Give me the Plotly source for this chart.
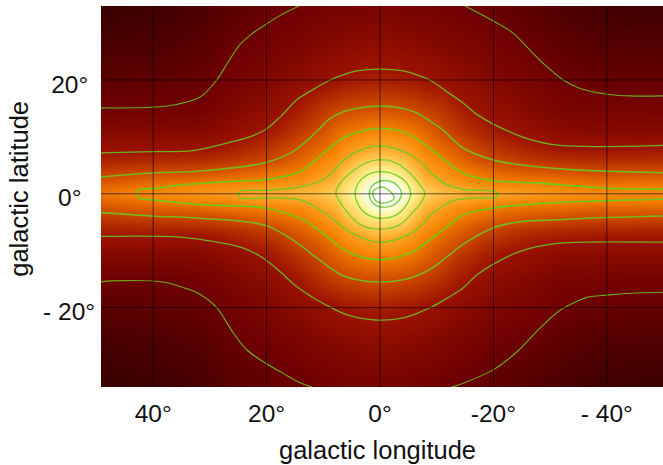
import numpy as np
import plotly.graph_objects as go

NB = "\u00a0"
lon_ticks = [40, 20, 0, -20, -40]
lon_labels = ["40°", "20°", "0°", "-20°", "- 40°"]
lat_ticks = [20, 0, -20]
lat_labels = ["20°" + NB, "0°" + NB + NB, "- 20°"]

longitudes = [49.5, 38, 32, 27, 22, 18, 14, 11, 8, 6, 4, 2, 0, -2, -4, -6, -8, -11, -14, -18, -22, -27, -32, -38, -50]
latitudes = [33.5, 26, 20, 15, 11, 8, 6, 4, 2.5, 1.2, 0, -1.2, -2.5, -4, -6, -8, -11, -15, -20, -26, -34.5]

# one list per longitude, from the top of the map to the bottom (brightness, contour-level scale)
brightness_by_lon = [
    [.1, .4, .7, 1.0, 1.5, 1.9, 2.3, 2.75, 3.15, 3.5, 3.8, 3.45, 3.1, 2.7, 2.3, 1.9, 1.45, 1.0, .65, .35, .1],
    [.25, .5, .8, 1.03, 1.45, 1.9, 2.4, 2.95, 3.5, 4.0, 4.3, 3.95, 3.45, 2.9, 2.35, 1.9, 1.45, 1.0, .78, .5, .2],
    [.4, .65, .88, 1.1, 1.5, 1.95, 2.45, 3.0, 3.65, 4.2, 4.5, 4.15, 3.55, 2.95, 2.4, 1.9, 1.45, 1.1, .85, .6, .35],
    [.6, .9, 1.1, 1.35, 1.7, 2.15, 2.6, 3.2, 3.85, 4.3, 4.7, 4.25, 3.75, 3.1, 2.55, 2.1, 1.65, 1.3, 1.05, .85, .55],
    [.8, 1.05, 1.3, 1.6, 1.95, 2.45, 2.8, 3.45, 3.95, 4.6, 5.1, 4.55, 3.9, 3.4, 2.75, 2.4, 1.9, 1.55, 1.25, 1.0, .7],
    [.9, 1.2, 1.5, 1.85, 2.25, 2.75, 3.05, 3.7, 4.2, 4.7, 5.2, 4.65, 4.15, 3.65, 3.0, 2.65, 2.2, 1.8, 1.45, 1.15, .85],
    [1.0, 1.3, 1.7, 2.2, 2.7, 3.15, 3.55, 3.95, 4.35, 5.0, 5.4, 4.95, 4.25, 3.9, 3.5, 3.1, 2.65, 2.15, 1.65, 1.25, .95],
    [1.05, 1.45, 1.85, 2.55, 3.0, 3.5, 3.95, 4.45, 4.9, 5.25, 5.6, 5.2, 4.8, 4.35, 3.85, 3.45, 2.95, 2.5, 1.8, 1.4, 1.0],
    [1.1, 1.55, 2.0, 2.8, 3.5, 3.95, 4.5, 4.95, 5.3, 5.7, 6.0, 5.65, 5.25, 4.85, 4.4, 3.9, 3.4, 2.75, 1.95, 1.5, 1.05],
    [1.12, 1.6, 2.1, 2.92, 3.75, 4.5, 5.0, 5.65, 6.15, 6.4, 6.6, 6.35, 6.1, 5.55, 4.9, 4.4, 3.7, 2.9, 2.05, 1.55, 1.1],
    [1.15, 1.65, 2.15, 3.0, 3.9, 4.75, 5.5, 6.2, 6.55, 7.0, 7.2, 6.95, 6.5, 6.1, 5.4, 4.7, 3.85, 2.98, 2.1, 1.6, 1.1],
    [1.15, 1.7, 2.2, 3.05, 4.05, 5.0, 5.85, 6.75, 7.4, 7.9, 8.1, 7.85, 7.35, 6.6, 5.75, 4.95, 4.0, 3.05, 2.15, 1.65, 1.12],
    [1.2, 1.72, 2.25, 3.1, 4.15, 5.15, 6.0, 6.95, 7.8, 9.1, 9.5, 9.0, 7.85, 6.85, 5.9, 5.1, 4.1, 3.08, 2.2, 1.7, 1.15],
    [1.2, 1.7, 2.2, 3.05, 4.1, 5.05, 5.9, 6.85, 7.75, 8.9, 9.2, 8.8, 7.7, 6.75, 5.8, 5.0, 4.05, 3.02, 2.15, 1.65, 1.12],
    [1.15, 1.65, 2.15, 3.0, 3.95, 4.85, 5.65, 6.45, 7.0, 7.5, 7.9, 7.45, 6.95, 6.35, 5.55, 4.8, 3.9, 2.98, 2.1, 1.6, 1.1],
    [1.1, 1.6, 2.1, 2.9, 3.8, 4.5, 5.0, 5.65, 6.2, 6.6, 6.9, 6.5, 6.1, 5.6, 4.95, 4.45, 3.75, 2.88, 2.05, 1.55, 1.05],
    [1.1, 1.55, 2.0, 2.75, 3.5, 4.0, 4.55, 4.95, 5.35, 5.75, 6.0, 5.7, 5.3, 4.9, 4.45, 3.95, 3.45, 2.75, 1.95, 1.5, 1.0],
    [1.05, 1.45, 1.9, 2.6, 3.0, 3.55, 3.98, 4.5, 4.85, 5.25, 5.6, 5.2, 4.8, 4.4, 3.9, 3.5, 3.0, 2.5, 1.8, 1.4, .95],
    [1.0, 1.35, 1.75, 2.2, 2.7, 3.15, 3.55, 4.0, 4.4, 5.0, 5.3, 4.95, 4.3, 3.95, 3.5, 3.1, 2.65, 2.15, 1.65, 1.25, .9],
    [.9, 1.25, 1.55, 1.9, 2.3, 2.75, 3.05, 3.65, 4.05, 4.6, 5.1, 4.55, 4.0, 3.6, 3.0, 2.7, 2.25, 1.85, 1.45, 1.15, .8],
    [.8, 1.1, 1.35, 1.7, 2.0, 2.5, 2.85, 3.4, 3.85, 4.35, 4.9, 4.3, 3.8, 3.35, 2.8, 2.45, 1.95, 1.6, 1.3, 1.0, .65],
    [.6, .95, 1.25, 1.45, 1.8, 2.2, 2.65, 3.2, 3.8, 4.25, 4.7, 4.2, 3.7, 3.15, 2.6, 2.2, 1.8, 1.45, 1.2, .9, .5],
    [.45, .75, 1.0, 1.25, 1.6, 2.0, 2.5, 3.1, 3.7, 4.15, 4.5, 4.1, 3.6, 3.05, 2.5, 2.05, 1.6, 1.25, 1.0, .7, .4],
    [.3, .6, .9, 1.2, 1.55, 2.0, 2.45, 2.95, 3.5, 4.0, 4.3, 3.95, 3.45, 3.0, 2.45, 2.0, 1.55, 1.2, .9, .55, .25],
    [.2, .55, .85, 1.15, 1.55, 2.05, 2.45, 3.05, 3.55, 3.95, 4.2, 3.95, 3.5, 3.0, 2.4, 2.0, 1.55, 1.15, .85, .5, .15],
]

colour_stops = ["#300000", "#6e0000", "#9c1200", "#cf4a00", "#f58000", "#ffa526",
                "#ffd25a", "#fff59a", "#f4fff0", "#ffffff", "#ffffff"]

c1_upper_lon = [49.4, 40.2, 35.9, 31.7, 28.8, 27.0, 24.7, 22.5, 20.4, 17.5, 14.3]
c1_upper_lat = [15.1, 15.2, 15.7, 17.0, 20, 22.8, 26.2, 28.2, 29.6, 31.4, 33]
c1_upper_r_lon = [-15.0, -19.9, -23.5, -25.9, -28.8, -32.3, -35.3, -40, -44.1, -49.9]
c1_upper_r_lat = [33, 30.4, 28.2, 25.8, 22.9, 20, 18.5, 17.5, 17.2, 17.2]
c1_lower_lon = [49.4, 47.1, 38.3, 34.3, 31.7, 28.8, 25.9, 23.5, 20.3, 17, 14.1, 12]
c1_lower_lat = [-15.5, -15.3, -15.5, -16.6, -17.7, -20, -24.4, -27.4, -29.7, -31.6, -33.2, -33.95]
c1_lower_r_lon = [-12.6, -14.1, -20, -24.1, -28.2, -31.7, -34.5, -36.5, -40, -45.9, -49.9]
c1_lower_r_lat = [-33.95, -33.5, -30.9, -27.8, -23.6, -20.5, -19, -18.2, -17.8, -17.4, -17.3]

c2_upper_lon = [49.4, 40.2, 33, 25.9, 23, 20.3, 17.5, 14.7, 11.7, 8.8, 6.5, 4.1, 0, -4.1, -6.5, -8.8, -11.7, -14.6, -17, -19.9, -26.5, -31.7, -40, -49.9]
c2_upper_lat = [7.2, 7.4, 7.6, 9.2, 10, 11.2, 13.6, 16.5, 18.4, 20, 20.9, 21.6, 21.9, 21.6, 20.9, 20, 18, 16, 14, 12.3, 9.5, 8.5, 8.3, 8.5]
c2_lower_lon = [49.4, 35.3, 30.5, 24.2, 20.3, 17.5, 14.7, 11.7, 8.8, 6.5, 4.1, 0, -4.1, -6.5, -9.1, -11.9, -14.7, -17, -19.9, -24.7, -30.5, -35.3, -49.9]
c2_lower_lat = [-7.5, -7.6, -8.2, -9.5, -11.5, -13.8, -16.3, -18.3, -19.9, -21, -21.7, -22.2, -21.8, -21, -19.9, -18.3, -16.5, -14.3, -12.4, -10.1, -8.8, -8.5, -8.5]

c3_upper_lon = [49.4, 40.2, 31.7, 20.1, 15.9, 13.5, 11.2, 8.8, 6.5, 4.1, 0, -4.1, -6.5, -8.8, -11.1, -14.6, -19.9, -24.7, -32.9, -42.9, -49.9]
c3_upper_lat = [2.95, 3.65, 4.0, 5.5, 7.1, 8.8, 10.9, 13.2, 14.4, 15, 15.4, 15, 14.2, 12.8, 11.2, 8.1, 5.96, 5.1, 4.3, 3.9, 3.7]
c3_lower_lon = [49.4, 40.2, 31.7, 20, 14.4, 11.5, 8.8, 6.5, 4.1, 0, -4.1, -6.7, -9.3, -11.9, -14.6, -19.9, -24.7, -30.5, -36.5, -49.9]
c3_lower_lat = [-3.3, -3.9, -4.3, -5.6, -8.8, -11, -13, -14.4, -15.1, -15.5, -15.1, -14.3, -13, -11, -8.9, -6, -4.9, -4.6, -4.3, -3.9]

c4_upper_lon = [43, 42.6, 40.2, 34.7, 25.9, 20.2, 14.1, 11.2, 8.8, 6.5, 2.9, 0, -4.1, -7.6, -9.4, -11.2, -14.7, -20, -27.6, -40, -49.9]
c4_upper_lat = [-0.2, 0.7, 0.9, 1.6, 2.2, 2.5, 3.9, 6.1, 8.1, 9.8, 11.1, 11.5, 10.9, 8.9, 7.5, 6.1, 3.6, 2.3, 1.9, 1.0, 0.8]
c4_lower_lon = [43, 42.6, 40.2, 31.7, 20.2, 14.1, 10.9, 8.4, 5.9, 0, -5.3, -8.4, -11.2, -14.7, -20, -27.6, -40, -49.9]
c4_lower_lat = [-0.2, -0.75, -1.05, -1.9, -2.5, -4.3, -6.3, -8.3, -10.1, -11.6, -10.4, -8.4, -6.3, -3.7, -2.5, -1.75, -1.2, -0.93]

c5_lon = [24.7, 20.2, 14.1, 10, 8, 6.2, 3.5, 0, -3.5, -6.5, -9, -11.2, -14.7, -20, -20.7, -20.7, -16.5, -12.9,
          -9.3, -6.5, -3.5, -0.5, 2.3, 5.9, 10.6, 14.1, 20.2, 24.7, 24.7]
c5_lat = [0.4, 0.6, 1.2, 2.5, 4.2, 6.1, 7.7, 8.4, 7.7, 6.1, 3.7, 1.9, 0.8, 0.47, 0.1, -0.5, -0.75, -1.2,
          -3.4, -6.3, -7.8, -8.5, -8.1, -6.3, -2.8, -1.05, -0.75, -0.65, 0.4]

c6_lon = [7.8, 7, 5.3, 2.6, 0, -2.9, -5.3, -7, -7.9, -7, -5.9, -3.5, 0, 3.5, 5.9, 7.3, 7.8]
c6_lat = [0.1, 1.9, 3.6, 5.4, 6, 5.4, 3.6, 1.6, 0.1, -1.9, -3.1, -5.4, -6.2, -5.4, -3.1, -1.05, 0.1]
c7_lon = [4.4, 3.8, 2.1, 0, -2.9, -4.7, -5.4, -4.7, -2.9, 0, 2.6, 4, 4.4]
c7_lat = [0.1, 1.9, 3.4, 3.9, 3.3, 1.9, 0.1, -1.9, -3.7, -4.3, -3.4, -1.6, 0.1]
c8_lon = [1.9, 1.5, 0, -1.8, -3.2, -3.8, -3.2, -1.8, 0, 1.5, 1.9]
c8_lat = [0.1, 1.3, 2.2, 2.2, 1.3, 0.1, -1.35, -2.2, -2.3, -1.35, 0.1]
c9_lon = [1.2, -0.3, -1.8, -2.5, -1.8, 0, 0.9, 1.2]
c9_lat = [0.4, 1.2, 0.4, -0.75, -1.35, -1.6, -1.05, 0.4]

contours = [
    (c1_upper_lon, c1_upper_lat, 1.1), (c1_upper_r_lon, c1_upper_r_lat, 1.1),
    (c1_lower_lon, c1_lower_lat, 1.1), (c1_lower_r_lon, c1_lower_r_lat, 1.1),
    (c2_upper_lon, c2_upper_lat, 1.3), (c2_lower_lon, c2_lower_lat, 1.3),
    (c3_upper_lon, c3_upper_lat, 1.6), (c3_lower_lon, c3_lower_lat, 1.6),
    (c4_upper_lon, c4_upper_lat, 1.8), (c4_lower_lon, c4_lower_lat, 1.8),
    (c5_lon, c5_lat, 1.5), (c6_lon, c6_lat, 1.4),
    (c7_lon, c7_lat, 1.4), (c8_lon, c8_lat, 1.4), (c9_lon, c9_lat, 1.4),
]

z = np.array(brightness_by_lon).T[::-1, ::-1]
n = len(colour_stops) - 1
fig = go.Figure()
fig.add_trace(go.Heatmap(
    x=longitudes[::-1], y=latitudes[::-1], z=z, zmin=0, zmax=n, zsmooth="best", showscale=False,
    colorscale=[[i / n, c] for i, c in enumerate(colour_stops)], hoverinfo="skip",
))
for lon, lat, w in contours:
    fig.add_trace(go.Scatter(x=lon, y=lat, mode="lines", showlegend=False, hoverinfo="skip",
                             line=dict(color="rgba(105,205,30,0.85)", width=w, shape="spline", smoothing=1.0)))

grid = "rgba(0,0,0,0.62)"
shapes = [dict(type="line", layer="above", xref="x", yref="paper", x0=t, x1=t, y0=0, y1=1,
               line=dict(color=grid, width=1)) for t in lon_ticks]
shapes += [dict(type="line", layer="above", xref="paper", yref="y", x0=0, x1=1, y0=t, y1=t,
                line=dict(color=grid, width=1)) for t in lat_ticks]

tick_font = dict(family="Liberation Sans, Arial, sans-serif", size=24.5, color="#111111")
title_font = dict(family="Liberation Sans, Arial, sans-serif", size=25.5, color="#111111")
fig.update_layout(
    width=663, height=465, autosize=False, showlegend=False,
    margin=dict(l=101, r=0, t=6, b=77.5, pad=0),
    paper_bgcolor="white", plot_bgcolor="white", shapes=shapes,
    xaxis=dict(range=[49.2, -49.9], tickvals=lon_ticks, ticktext=lon_labels, showgrid=False, zeroline=False,
               showline=False, ticks="outside", ticklen=5, tickcolor="rgba(0,0,0,0)", tickangle=0, tickfont=tick_font),
    yaxis=dict(range=[-33.95, 33], tickvals=lat_ticks, ticktext=lat_labels, showgrid=False, zeroline=False,
               showline=False, ticks="outside", ticklen=0, tickcolor="rgba(0,0,0,0)", tickfont=tick_font,
               ticklabelshift=4),
    annotations=[
        dict(text="galactic longitude", xref="paper", yref="paper", x=276 / 562, y=-63.5 / 381.5,
             xanchor="center", yanchor="middle", showarrow=False, font=title_font),
        dict(text="galactic latitude", xref="paper", yref="paper", x=-82 / 562, y=198.5 / 381.5,
             xanchor="center", yanchor="middle", textangle=-90, showarrow=False, font=title_font),
    ],
)
fig.write_html("out.html", config=dict(displayModeBar=False),
               post_script="document.body.style.margin='0';")
